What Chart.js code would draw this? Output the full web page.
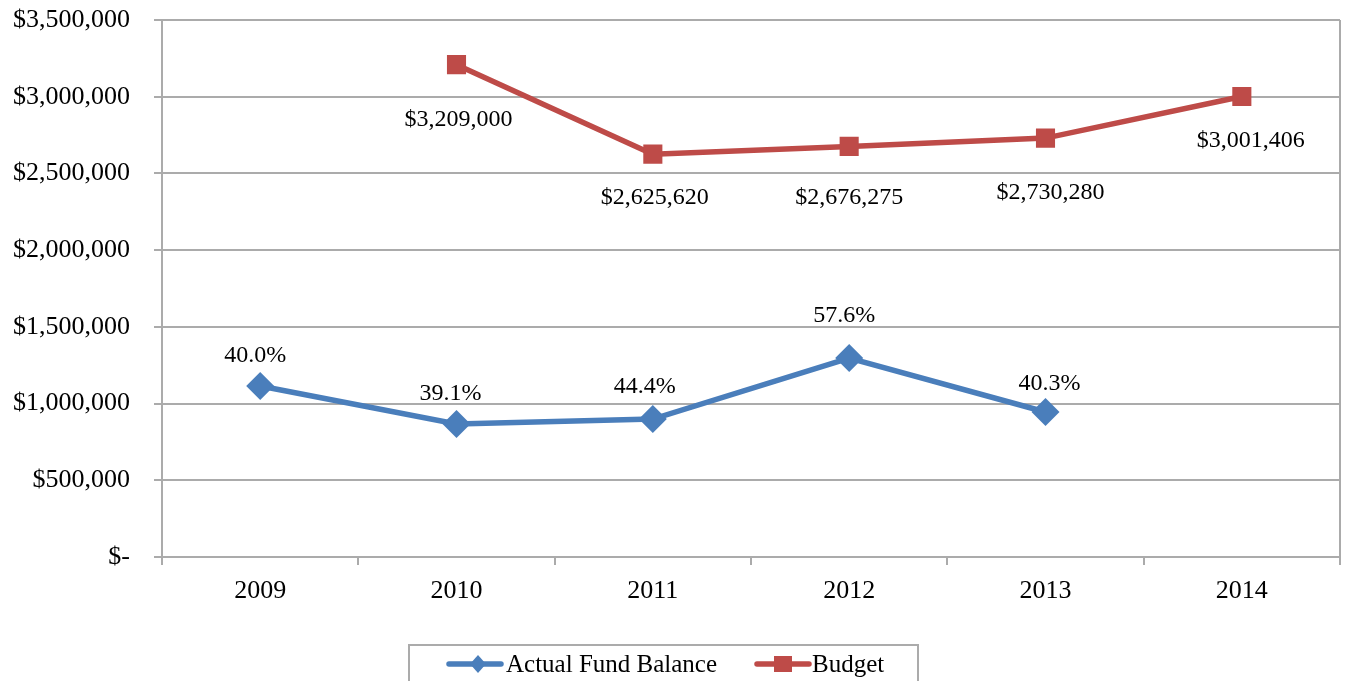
<!DOCTYPE html>
<html><head><meta charset="utf-8">
<script src="https://cdn.jsdelivr.net/npm/chart.js@4.4.1/dist/chart.umd.min.js"></script>
<style>html,body{margin:0;padding:0;background:#fff;overflow:hidden}#wrap{width:1346px;height:681px}</style>
</head><body><div id="wrap"><canvas id="c" width="1346" height="681"></canvas></div>
<script>
const categories = ['2009', '2010', '2011', '2012', '2013', '2014'];
const actualFundBalance = [1115000, 867000, 899000, 1297000, 945000, null];
const actualLabels = ['40.0%', '39.1%', '44.4%', '57.6%', '40.3%', null];
const budget = [null, 3209000, 2625620, 2676275, 2730280, 3001406];
const budgetLabels = [null, '$3,209,000', '$2,625,620', '$2,676,275', '$2,730,280', '$3,001,406'];
const yTickValues = [0, 500000, 1000000, 1500000, 2000000, 2500000, 3000000, 3500000];
const yTickLabels = ['$-', '$500,000', '$1,000,000', '$1,500,000', '$2,000,000', '$2,500,000', '$3,000,000', '$3,500,000'];
const seriesNames = ['Actual Fund Balance', 'Budget'];

// label placement (style, px offsets from the point)
const actualLabelOffsets = [[-5, -24], [-6, -24], [-8, -26], [-5, -36], [4, -22], null];
const budgetLabelOffsets = [null, [2, 61], [2, 50], [0, 58], [5, 61], [9, 51]];

const FONT = '"Liberation Serif", "Times New Roman", serif';
const BLUE = '#4A7EBB';
const RED = '#BE4B48';
const GRID = '#ABABAB';

const dataLabelPlugin = {
  id: 'dataLabels',
  afterDatasetsDraw(chart) {
    const ctx = chart.ctx;
    ctx.save();
    ctx.font = '24px ' + FONT;
    ctx.fillStyle = '#000';
    ctx.textAlign = 'center';
    ctx.textBaseline = 'alphabetic';
    const sets = [[actualLabels, actualLabelOffsets], [budgetLabels, budgetLabelOffsets]];
    sets.forEach((s, di) => {
      const meta = chart.getDatasetMeta(di);
      meta.data.forEach((pt, i) => {
        const txt = s[0][i];
        const off = s[1][i];
        if (!txt || !off || pt.skip) return;
        ctx.fillText(txt, pt.x + off[0], pt.y + off[1]);
      });
    });
    ctx.restore();
  }
};

const legendPlugin = {
  id: 'customLegend',
  afterDraw(chart) {
    const ctx = chart.ctx;
    ctx.save();
    ctx.strokeStyle = GRID;
    ctx.lineWidth = 2;
    ctx.strokeRect(409, 645, 509, 80);
    const cy = 664;
    ctx.lineCap = 'round';
    ctx.lineWidth = 5.5;
    ctx.strokeStyle = BLUE;
    ctx.beginPath(); ctx.moveTo(449, cy); ctx.lineTo(501, cy); ctx.stroke();
    ctx.fillStyle = BLUE;
    ctx.beginPath();
    ctx.moveTo(478, cy - 9); ctx.lineTo(486, cy); ctx.lineTo(478, cy + 9); ctx.lineTo(470, cy);
    ctx.closePath(); ctx.fill();
    ctx.strokeStyle = RED;
    ctx.beginPath(); ctx.moveTo(757, cy); ctx.lineTo(809, cy); ctx.stroke();
    ctx.fillStyle = RED;
    ctx.fillRect(774, cy - 8, 18, 16);
    ctx.fillStyle = '#000';
    ctx.font = '25px ' + FONT;
    ctx.textAlign = 'left';
    ctx.textBaseline = 'alphabetic';
    ctx.fillText(seriesNames[0], 506, 672);
    ctx.fillText(seriesNames[1], 812, 672);
    ctx.restore();
  }
};

new Chart(document.getElementById('c'), {
  type: 'line',
  data: {
    labels: categories,
    datasets: [
      {
        label: seriesNames[0],
        data: actualFundBalance,
        borderColor: BLUE,
        backgroundColor: BLUE,
        borderWidth: 5.5,
        pointStyle: 'rectRot',
        pointRadius: 14,
        pointBorderWidth: 0,
        pointBackgroundColor: BLUE,
        tension: 0,
        spanGaps: false
      },
      {
        label: seriesNames[1],
        data: budget,
        borderColor: RED,
        backgroundColor: RED,
        borderWidth: 5.5,
        pointStyle: 'rect',
        pointRadius: 13.5,
        pointBorderWidth: 0,
        pointBackgroundColor: RED,
        tension: 0,
        spanGaps: false
      }
    ]
  },
  options: {
    responsive: false,
    animation: false,
    devicePixelRatio: 1,
    layout: { autoPadding: false, padding: { left: 0, right: 6, top: 20, bottom: 0 } },
    plugins: { legend: { display: false }, tooltip: { enabled: false } },
    scales: {
      x: {
        offset: true,
        grid: {
          offset: true,
          drawOnChartArea: true,
          color: (c) => (c.index === undefined ? GRID : 'rgba(0,0,0,0)'),
          tickColor: GRID,
          tickLength: 8,
          lineWidth: 2
        },
        border: { display: true, color: GRID, width: 2 },
        ticks: { color: '#000', font: { family: FONT, size: 26 }, padding: 11, maxRotation: 0 },
        afterFit: (s) => { s.height = 124; s.paddingLeft = 0; s.paddingRight = 0; }
      },
      y: {
        min: 0,
        max: 3500000,
        afterBuildTicks: (s) => { s.ticks = yTickValues.map(v => ({ value: v })); },
        grid: { color: GRID, tickColor: GRID, tickLength: 8, lineWidth: 2 },
        border: { display: true, color: GRID, width: 2 },
        ticks: {
          color: '#000',
          font: { family: FONT, size: 26 },
          padding: 24,
          callback: (v, i) => yTickLabels[i]
        },
        afterFit: (s) => { s.width = 162; s.paddingTop = 0; s.paddingBottom = 0; }
      }
    }
  },
  plugins: [dataLabelPlugin, legendPlugin]
});
</script>
</body></html>
